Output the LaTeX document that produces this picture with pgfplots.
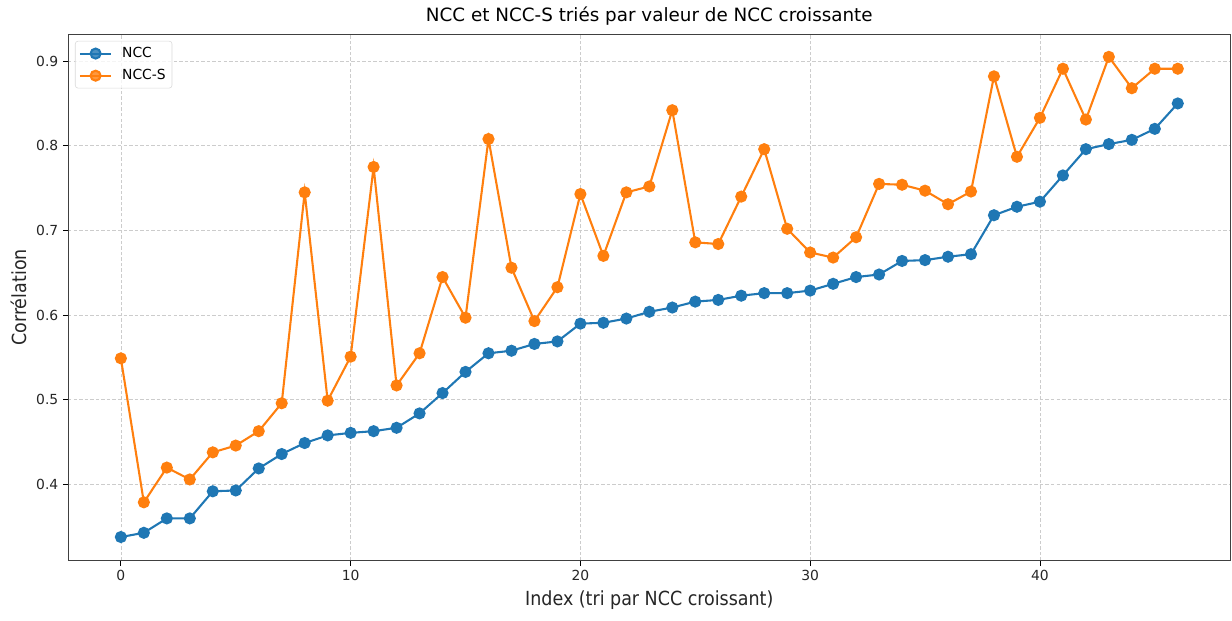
\documentclass[border=0pt]{standalone}
\usepackage{fontspec}
\setmainfont{DejaVu Sans}
\newfontfamily\condfont{DejaVu Sans Condensed}
\usepackage{pgfplots}
\pgfplotsset{compat=1.18}
\definecolor{mplblue}{HTML}{1F77B4}
\definecolor{mplorange}{HTML}{FF7F0E}
\begin{document}
\begin{tikzpicture}
  \path[use as bounding box] (-49pt,-43pt) rectangle (838.4pt,403.9pt);
  \begin{axis}[
      scale only axis,
      width=837.4pt, height=379.4pt,
      xmin=-2.3, xmax=48.3,
      ymin=0.310, ymax=0.932,
      xtick={0,10,20,30,40},
      ytick={0.4,0.5,0.6,0.7,0.8,0.9},
      yticklabel style={/pgf/number format/.cd, fixed, fixed zerofill, precision=1},
      /pgf/number format/assume math mode=true,
      tick label style={font=\fontsize{10}{12}\selectfont, black!85},
      tick align=outside, tick pos=left,
      major tick length=3.5pt,
      every tick/.style={black, line width=0.6pt},
      axis line style={black!75, line width=0.7pt},
      grid=major,
      major grid style={gray!40, line width=0.5pt, dash pattern=on 2.5pt off 1.5pt},
      title={NCC et NCC-S triés par valeur de NCC croissante},
      title style={font=\fontsize{13.2}{15}\selectfont, yshift=-3pt},
      xlabel={Index (tri par NCC croissant)},
      ylabel={Corrélation},
      label style={font=\condfont\fontsize{14}{16}\selectfont, black!85},
      legend style={at={(0.006,0.987)}, anchor=north west,
        draw=gray!30, rounded corners=2pt, fill=white, fill opacity=0.8,
        text opacity=1, font=\fontsize{10}{12}\selectfont,
        inner sep=2.5pt, row sep=3pt},
      legend cell align=left,
      legend image code/.code={
        \draw[mark repeat=2, mark phase=2, #1]
          plot coordinates {(0cm,0cm) (0.4cm,0cm) (0.8cm,0cm)};
        \path (0.8cm+5pt,0cm);
      },
    ]
    % NCC -- bleu
    \addplot[mplblue, line width=1.5pt, mark=*, mark size=3.6pt,
      mark options={fill=mplblue, draw=mplblue}]
      coordinates {
        (0,0.338) (1,0.343) (2,0.360) (3,0.360) (4,0.392) (5,0.393)
        (6,0.419) (7,0.436) (8,0.449) (9,0.458) (10,0.461) (11,0.463)
        (12,0.467) (13,0.484) (14,0.508) (15,0.533) (16,0.555) (17,0.558)
        (18,0.566) (19,0.569) (20,0.590) (21,0.591) (22,0.596) (23,0.604)
        (24,0.609) (25,0.616) (26,0.618) (27,0.623) (28,0.626) (29,0.626)
        (30,0.629) (31,0.637) (32,0.645) (33,0.648) (34,0.664) (35,0.665)
        (36,0.669) (37,0.672) (38,0.718) (39,0.728) (40,0.734) (41,0.765)
        (42,0.796) (43,0.802) (44,0.807) (45,0.820) (46,0.850)
      };
    \addlegendentry{NCC}
    % NCC-S -- orange
    \addplot[mplorange, line width=1.5pt, mark=*, mark size=3.6pt,
      mark options={fill=mplorange, draw=mplorange}]
      coordinates {
        (0,0.549) (1,0.379) (2,0.420) (3,0.406) (4,0.438) (5,0.446)
        (6,0.463) (7,0.496) (8,0.745) (9,0.499) (10,0.551) (11,0.775)
        (12,0.517) (13,0.555) (14,0.645) (15,0.597) (16,0.808) (17,0.656)
        (18,0.593) (19,0.633) (20,0.743) (21,0.670) (22,0.745) (23,0.752)
        (24,0.842) (25,0.686) (26,0.684) (27,0.740) (28,0.796) (29,0.702)
        (30,0.674) (31,0.668) (32,0.692) (33,0.755) (34,0.754) (35,0.747)
        (36,0.731) (37,0.746) (38,0.882) (39,0.787) (40,0.833) (41,0.891)
        (42,0.831) (43,0.905) (44,0.868) (45,0.891) (46,0.891)
      };
    \addlegendentry{NCC-S}
  \end{axis}
\end{tikzpicture}
\end{document}
